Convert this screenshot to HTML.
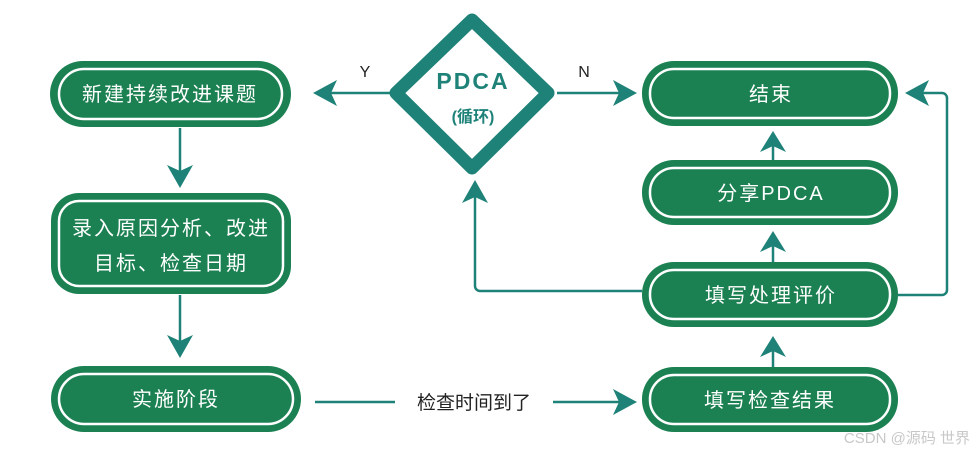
<!DOCTYPE html>
<html><head><meta charset="utf-8"><style>
body{margin:0;background:#fff;}
svg text{font-family:"Liberation Sans","Noto Sans CJK SC",sans-serif;}
</style></head><body>
<svg width="976" height="454" viewBox="0 0 976 454" xmlns="http://www.w3.org/2000/svg">
<defs>
<marker id="a" markerWidth="10" markerHeight="10" refX="8" refY="5" orient="auto" markerUnits="userSpaceOnUse" viewBox="0 0 10 10">
</marker>
</defs>
<g fill="#1c8152">
<rect x="50" y="61" width="241" height="66" rx="33"/>
<rect x="51" y="193" width="240" height="101" rx="28"/>
<rect x="51" y="366" width="250" height="66" rx="33"/>
<rect x="642" y="61" width="256" height="65" rx="32"/>
<rect x="642" y="160" width="256" height="65" rx="32"/>
<rect x="642" y="262" width="256" height="65" rx="32"/>
<rect x="642" y="367" width="256" height="65" rx="32"/>
</g>
<g fill="none" stroke="#fff" stroke-width="2.5">
<rect x="59" y="69" width="223" height="50" rx="25"/>
<rect x="59" y="201" width="224" height="85" rx="20"/>
<rect x="59" y="374" width="234" height="50" rx="25"/>
<rect x="650" y="69" width="240" height="49" rx="24"/>
<rect x="650" y="168" width="240" height="49" rx="24"/>
<rect x="650" y="270" width="240" height="49" rx="24"/>
<rect x="650" y="375" width="240" height="49" rx="24"/>
</g>
<path d="M472 20 L548 93 L472 168 L396 93 Z" fill="#fff" stroke="#1e8278" stroke-width="13" stroke-linejoin="round"/>
<text x="473" y="89" text-anchor="middle" font-size="23" font-weight="bold" fill="#1e8278" letter-spacing="2">PDCA</text>
<text x="473" y="122" text-anchor="middle" font-size="16" font-weight="bold" fill="#1e8278">(循环)</text>
<g stroke="#1e8278" stroke-width="2.5" fill="none">
<line x1="390" y1="93" x2="325" y2="93"/>
<line x1="557" y1="93" x2="625" y2="93"/>
<line x1="180" y1="128" x2="180" y2="180"/>
<line x1="180" y1="295" x2="180" y2="350"/>
<line x1="315" y1="402" x2="395" y2="402"/>
<line x1="553" y1="402" x2="625" y2="402"/>
<line x1="773" y1="160" x2="773" y2="140"/>
<line x1="773" y1="262" x2="773" y2="240"/>
<line x1="773" y1="367" x2="773" y2="345"/>
<path d="M642 291 H480 a5 5 0 0 1 -5 -5 V190"/>
<path d="M898 295 H942 a5 5 0 0 0 5 -5 V98 a5 5 0 0 0 -5 -5 H915"/>
</g>
<g fill="#1e8278">
<path d="M313 93 L337 80 L331 93 L337 106 Z"/>
<path d="M637 93 L613 80 L619 93 L613 106 Z"/>
<path d="M180 188 L167 165 L180 171 L193 165 Z"/>
<path d="M180 358 L167 335 L180 341 L193 335 Z"/>
<path d="M637 402 L613 389 L619 402 L613 415 Z"/>
<path d="M773 131 L760 152 L773 146 L786 152 Z"/>
<path d="M773 231 L760 252 L773 246 L786 252 Z"/>
<path d="M773 336 L760 357 L773 351 L786 357 Z"/>
<path d="M475 180 L462 203 L475 197 L488 203 Z"/>
<path d="M905 93 L929 80 L923 93 L929 106 Z"/>
</g>
<g fill="#fff" font-size="20" text-anchor="middle">
<text x="170" y="101" letter-spacing="2">新建持续改进课题</text>
<text x="171" y="235" letter-spacing="2">录入原因分析、改进</text>
<text x="171" y="270" letter-spacing="2">目标、检查日期</text>
<text x="176" y="406" letter-spacing="2">实施阶段</text>
<text x="771" y="101" letter-spacing="2">结束</text>
<text x="771" y="200" letter-spacing="2">分享PDCA</text>
<text x="771" y="302" letter-spacing="2">填写处理评价</text>
<text x="770" y="407" letter-spacing="2">填写检查结果</text>
</g>
<text x="474" y="409" text-anchor="middle" font-size="19" fill="#222">检查时间到了</text>
<text x="365" y="77" text-anchor="middle" font-size="16" fill="#222">Y</text>
<text x="584" y="77" text-anchor="middle" font-size="16" fill="#222">N</text>
<text x="970" y="443" text-anchor="end" font-size="15" fill="#c8c8c8">CSDN @源码 世界</text>
</svg>
</body></html>
